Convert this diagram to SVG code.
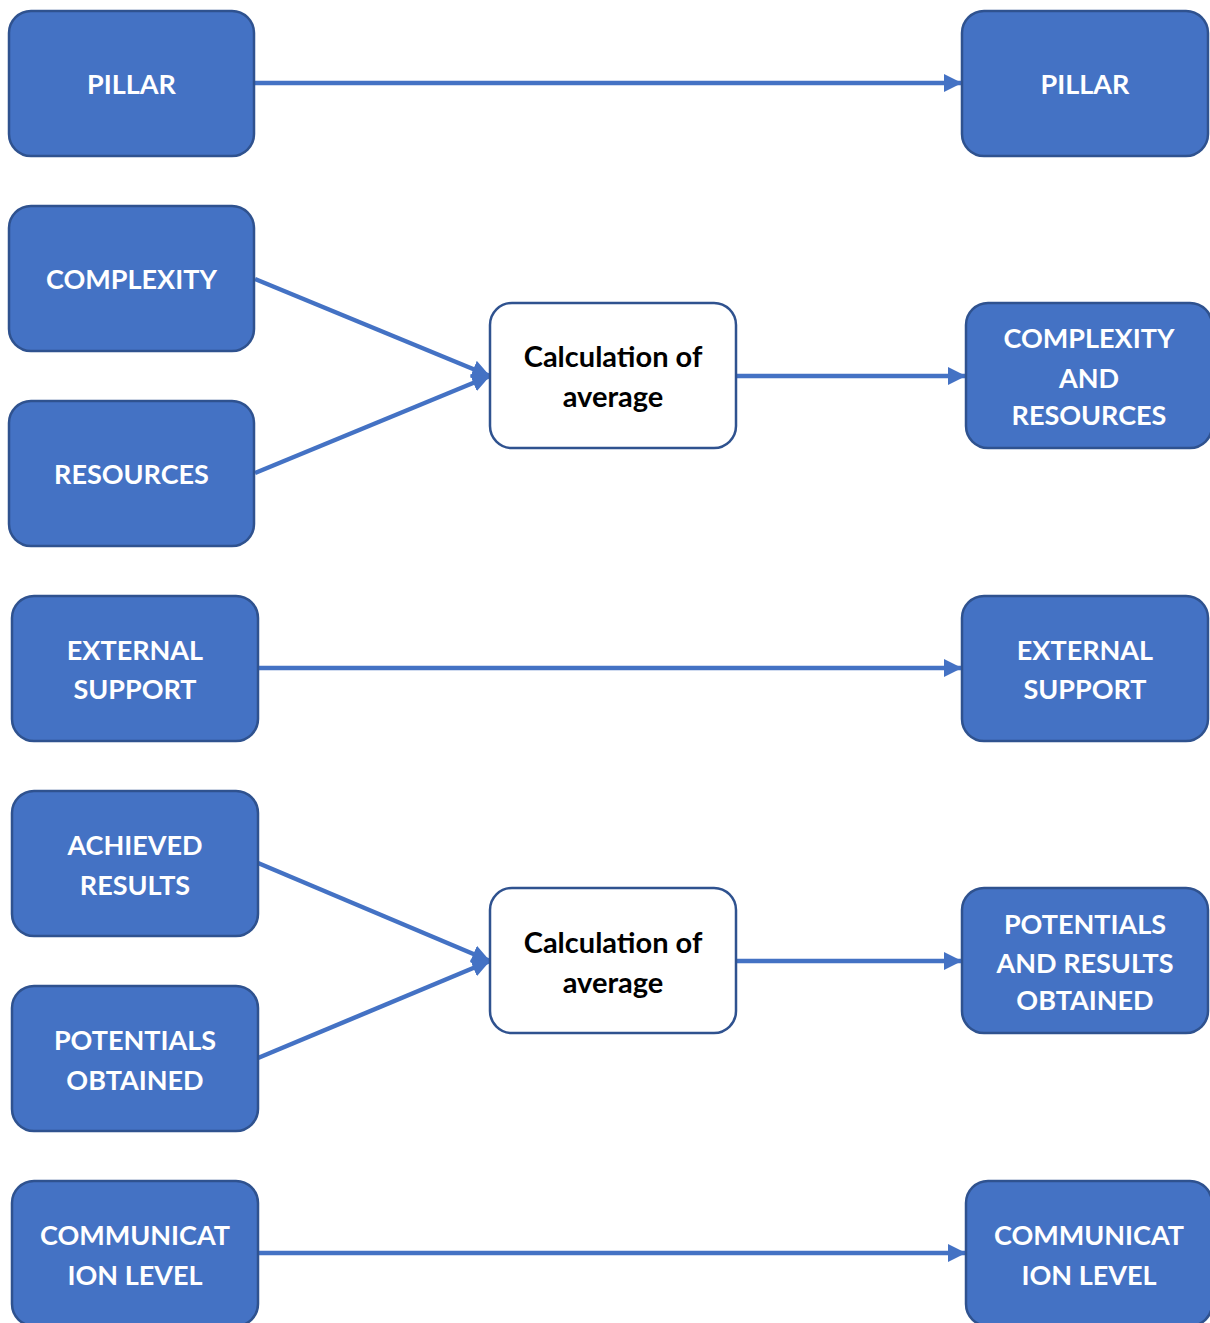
<svg xmlns="http://www.w3.org/2000/svg" width="1210" height="1323" viewBox="0 0 1210 1323">
  <style>
    .node rect { fill: #4472C4; stroke: #2F528F; stroke-width: 2.5; }
    .calc rect { fill: #FFFFFF; stroke: #2F528F; stroke-width: 2.5; }
    .node text { fill: #FFFFFF; font-family: Lato, "Open Sans", sans-serif; font-weight: bold; font-size: 27px; text-anchor: middle; }
    .calc text { fill: #000000; font-family: Lato, "Open Sans", sans-serif; font-weight: bold; font-size: 29px; text-anchor: middle; }
    .edge { stroke: #4472C4; stroke-width: 4.5; fill: none; marker-end: url(#head); }
  </style>
  <defs>
    <marker id="head" markerUnits="userSpaceOnUse" markerWidth="20" markerHeight="18" refX="18" refY="9" orient="auto">
      <path d="M0,0 L18,9 L0,18 Z" fill="#4472C4"/>
    </marker>
  </defs>
  <rect width="1210" height="1323" fill="#FFFFFF"/>

  <g id="connectors">
    <line class="edge" x1="255" y1="83" x2="962" y2="83"/>
    <line class="edge" x1="255" y1="279" x2="490" y2="376"/>
    <line class="edge" x1="255" y1="473" x2="490" y2="376"/>
    <line class="edge" x1="736" y1="376" x2="966" y2="376"/>
    <line class="edge" x1="258" y1="668" x2="962" y2="668"/>
    <line class="edge" x1="258" y1="863" x2="490" y2="961"/>
    <line class="edge" x1="258" y1="1058" x2="490" y2="961"/>
    <line class="edge" x1="736" y1="961" x2="962" y2="961"/>
    <line class="edge" x1="258" y1="1253" x2="966" y2="1253"/>
  </g>

  <g id="pillar-left" class="node">
    <rect x="9" y="11" width="245" height="145" rx="22"/>
    <text x="131.5" y="94">PILLAR</text>
  </g>
  <g id="pillar-right" class="node">
    <rect x="962" y="11" width="246" height="145" rx="22"/>
    <text x="1085" y="94">PILLAR</text>
  </g>

  <g id="complexity" class="node">
    <rect x="9" y="206" width="245" height="145" rx="22"/>
    <text x="131.5" y="289">COMPLEXITY</text>
  </g>
  <g id="resources" class="node">
    <rect x="9" y="401" width="245" height="145" rx="22"/>
    <text x="131.5" y="484">RESOURCES</text>
  </g>
  <g id="average-1" class="calc">
    <rect x="490" y="303" width="246" height="145" rx="22"/>
    <text x="613" y="367">Calculation of</text>
    <text x="613" y="407">average</text>
  </g>
  <g id="complexity-and-resources" class="node">
    <rect x="966" y="303" width="246" height="145" rx="22"/>
    <text x="1089" y="348">COMPLEXITY</text>
    <text x="1089" y="388">AND</text>
    <text x="1089" y="425">RESOURCES</text>
  </g>

  <g id="external-left" class="node">
    <rect x="12" y="596" width="246" height="145" rx="22"/>
    <text x="135" y="660">EXTERNAL</text>
    <text x="135" y="699">SUPPORT</text>
  </g>
  <g id="external-right" class="node">
    <rect x="962" y="596" width="246" height="145" rx="22"/>
    <text x="1085" y="660">EXTERNAL</text>
    <text x="1085" y="699">SUPPORT</text>
  </g>

  <g id="achieved-results" class="node">
    <rect x="12" y="791" width="246" height="145" rx="22"/>
    <text x="135" y="855">ACHIEVED</text>
    <text x="135" y="895">RESULTS</text>
  </g>
  <g id="potentials-obtained" class="node">
    <rect x="12" y="986" width="246" height="145" rx="22"/>
    <text x="135" y="1050">POTENTIALS</text>
    <text x="135" y="1090">OBTAINED</text>
  </g>
  <g id="average-2" class="calc">
    <rect x="490" y="888" width="246" height="145" rx="22"/>
    <text x="613" y="953">Calculation of</text>
    <text x="613" y="993">average</text>
  </g>
  <g id="potentials-and-results" class="node">
    <rect x="962" y="888" width="246" height="145" rx="22"/>
    <text x="1085" y="934">POTENTIALS</text>
    <text x="1085" y="973">AND RESULTS</text>
    <text x="1085" y="1010">OBTAINED</text>
  </g>

  <g id="communication-left" class="node">
    <rect x="12" y="1181" width="246" height="145" rx="22"/>
    <text x="135" y="1245">COMMUNICAT</text>
    <text x="135" y="1285">ION LEVEL</text>
  </g>
  <g id="communication-right" class="node">
    <rect x="966" y="1181" width="246" height="145" rx="22"/>
    <text x="1089" y="1245">COMMUNICAT</text>
    <text x="1089" y="1285">ION LEVEL</text>
  </g>
</svg>
